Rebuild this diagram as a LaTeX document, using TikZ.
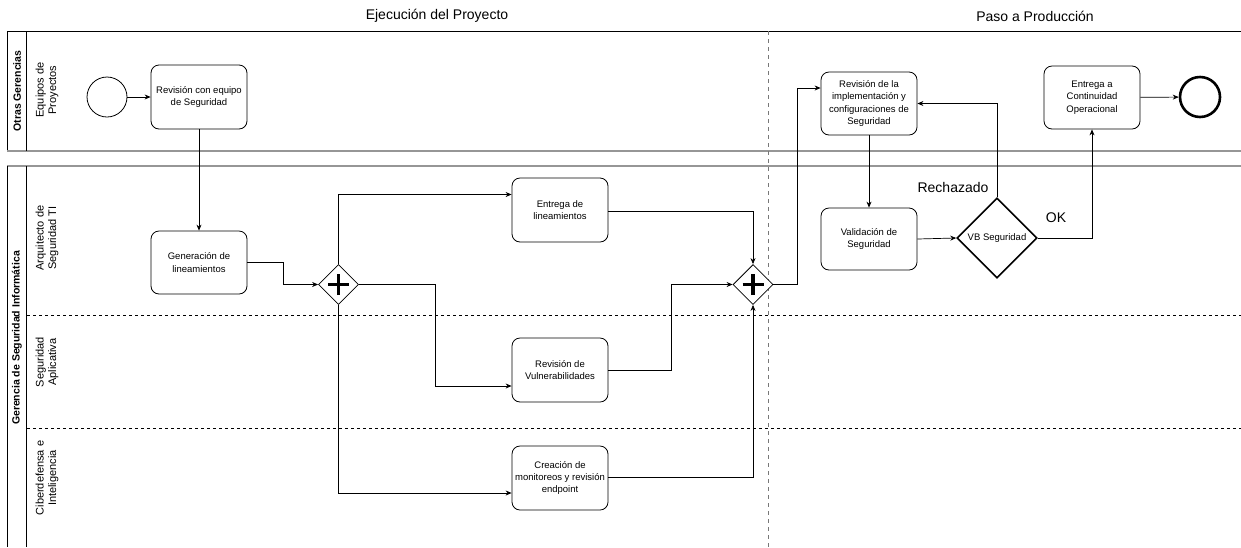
\documentclass[tikz,border=0pt]{standalone}
\usepackage{fontspec}
\setmainfont{Liberation Sans}
\usetikzlibrary{arrows.meta,shapes.geometric}

\definecolor{poolgray}{RGB}{150,150,150}
\definecolor{sepgray}{RGB}{120,120,120}

\begin{document}
\begin{tikzpicture}[x=1pt,y=-1pt,
  task/.style={draw, fill=white, rounded corners=8pt, minimum width=96pt,
    minimum height=64pt, align=center, inner sep=1pt, line width=0.8pt,
    font=\fontsize{9.5}{12.3}\selectfont},
  pargw/.style={draw, fill=white, diamond, aspect=1, minimum width=40pt,
    minimum height=40pt, inner sep=0pt, line width=0.8pt},
  xorgw/.style={draw, fill=white, diamond, aspect=1, minimum width=80pt,
    minimum height=80pt, inner sep=0pt, line width=1.6pt,
    font=\fontsize{9.5}{12}\selectfont},
  startev/.style={draw, fill=white, circle, minimum size=40pt, inner sep=0pt, line width=0.8pt},
  endev/.style={draw, fill=white, circle, minimum size=40pt, inner sep=0pt, line width=2.6pt},
  flow/.style={-{Stealth[length=6pt,width=5pt]}, line width=0.7pt},
  pooltitle/.style={rotate=90, font=\fontsize{10.5}{12}\selectfont\bfseries},
  lanetitle/.style={rotate=90, align=center, font=\fontsize{11}{12.5}\selectfont},
  phase/.style={font=\fontsize{14}{16}\selectfont},
  flowlabel/.style={font=\fontsize{14}{16}\selectfont},
  lanesep/.style={line width=0.7pt, dash pattern=on 3pt off 3pt},
  phasesep/.style={sepgray, line width=0.7pt, dash pattern=on 4pt off 4pt},
]
\useasboundingbox (0,0) rectangle (1241,547);

% phase headings
\node[phase] (ph1) at (437,16) {Ejecución del Proyecto};
\node[phase] (ph2) at (1035,16) {Paso a Producción};

% pool: Otras Gerencias
\draw[line width=1pt] (7,151) -- (7,31) -- (1241,31);
\draw[poolgray, line width=1.6pt] (7,151) -- (1241,151);
\draw[line width=0.8pt] (26,31) -- (26,151);
\node[pooltitle] (p1) at (17,91) {Otras Gerencias};
\node[lanetitle] (l1) at (47,90) {Equipos de\\Proyectos};

% pool: Gerencia de Seguridad Informática
\draw[poolgray, line width=1.6pt] (7,166) -- (1241,166);
\draw[line width=1pt] (7,166) -- (7,547);
\draw[line width=0.8pt] (26,166) -- (26,547);
\node[pooltitle] (p2) at (17,338) {Gerencia de Seguridad Informática};
\node[lanetitle] (l2) at (47,238) {Arquitecto de\\Seguridad TI};
\node[lanetitle] (l3) at (47,362) {Seguridad\\Aplicativa};
\node[lanetitle] (l4) at (47,478) {Ciberdefensa e\\Inteligencia};

% lane separators
\draw[lanesep] (27,315) -- (1241,315);
\draw[lanesep] (27,428) -- (1241,428);

% phase separator
\draw[phasesep] (768,31) -- (768,547);

% events and tasks
\node[startev] (start) at (107,97) {};
\node[task] (t1) at (199,97) {Revisión con equipo\\de Seguridad};
\node[task, minimum height=63pt] (t2) at (199,262.5) {Generación de\\lineamientos};
\node[task] (t3) at (560,210) {Entrega de\\lineamientos};
\node[task] (t4) at (560,370) {Revisión de\\Vulnerabilidades};
\node[task] (t5) at (560,478) {Creación de\\monitoreos y revisión\\endpoint};
\node[task, minimum height=63pt] (t6) at (869,103.5) {Revisión de la\\implementación y\\configuraciones de\\Seguridad};
\node[task, minimum height=62pt] (t7) at (869,239) {Validación de\\Seguridad};
\node[task, minimum height=63pt] (t8) at (1092,97.5) {Entrega a\\Continuidad\\Operacional};
\node[endev] (end) at (1200,97) {};

% gateways
\node[pargw] (g1) at (338.5,284.5) {};
\node[pargw] (g2) at (753,284.5) {};
\foreach \g in {g1,g2}{
  \draw[line width=3.6pt] ([xshift=-10.5pt]\g.center) -- ([xshift=10.5pt]\g.center);
  \draw[line width=3.6pt] ([yshift=-10.5pt]\g.center) -- ([yshift=10.5pt]\g.center);
}
\node[xorgw] (g3) at (997,238) {VB Seguridad};

% sequence flows
\draw[flow] (start) -- (t1);
\draw[flow] (t1) -- (t2);
\draw[flow] (t2.east) -- ++(36,0) |- (g1.west);
\draw[flow] (g1.north) |- ([yshift=15.5pt]t3.west);
\draw[flow] (g1.east) -- ++(76.5,0) |- ([yshift=-16pt]t4.west);
\draw[flow] (g1.south) |- ([yshift=-15pt]t5.west);
\draw[flow] ([yshift=-1pt]t3.east) -| (g2.north);
\draw[flow] (t4.east) -- ++(62.5,0) |- (g2.west);
\draw[flow] ([yshift=1pt]t5.east) -| (g2.south);
\draw[flow] (g2.east) -- ++(24,0) |- ([yshift=15.5pt]t6.west);
\draw[flow] (t6) -- (t7);
\draw[flow] (t7.east) -- (g3.west);
\draw[flow] (g3.north) |- (t6.east);
\draw[flow] (g3.east) -| (t8.south);
\draw[flow] (t8) -- (end);

% flow labels
\node[flowlabel] (rej) at (953,187) {Rechazado};
\node[flowlabel] (ok) at (1056,218) {OK};
\end{tikzpicture}
\end{document}
